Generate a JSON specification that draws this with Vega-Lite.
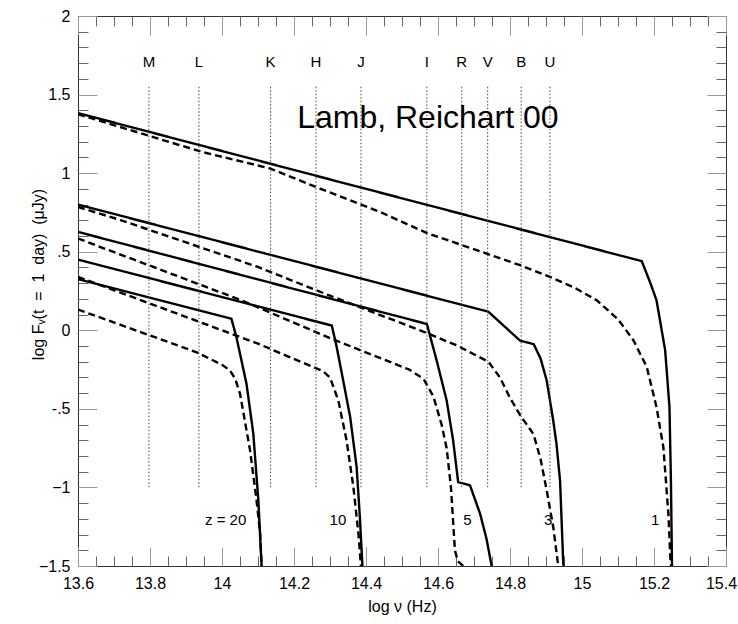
{
  "$schema": "https://vega.github.io/schema/vega-lite/v6.json",
  "width": 648,
  "height": 550,
  "autosize": {"type": "none"},
  "padding": {"left": 78, "top": 16, "right": 12, "bottom": 58},
  "config": {
    "font": "Liberation Sans",
    "view": {"stroke": "#333", "strokeWidth": 1},
    "axis": {"grid": false, "domain": false, "labelFont": "Liberation Sans", "titleFont": "Liberation Sans", "labelColor": "#000", "titleColor": "#000", "labelFontSize": 16, "titleFontSize": 16, "titleFontWeight": "normal"}
  },
  "datasets": {
    "curves": [
      {"curve": "z1s", "kind": "solid", "x": 13.6, "y": 1.382},
      {"curve": "z1s", "kind": "solid", "x": 14.3, "y": 0.96},
      {"curve": "z1s", "kind": "solid", "x": 15.166, "y": 0.44},
      {"curve": "z1s", "kind": "solid", "x": 15.19, "y": 0.3},
      {"curve": "z1s", "kind": "solid", "x": 15.207, "y": 0.191},
      {"curve": "z1s", "kind": "solid", "x": 15.231, "y": -0.127},
      {"curve": "z1s", "kind": "solid", "x": 15.243, "y": -0.489},
      {"curve": "z1s", "kind": "solid", "x": 15.247, "y": -0.955},
      {"curve": "z1s", "kind": "solid", "x": 15.25, "y": -1.5},
      {"curve": "z1d", "kind": "dashed", "x": 13.6, "y": 1.375},
      {"curve": "z1d", "kind": "dashed", "x": 13.943, "y": 1.136},
      {"curve": "z1d", "kind": "dashed", "x": 14.133, "y": 1.03},
      {"curve": "z1d", "kind": "dashed", "x": 14.272, "y": 0.902},
      {"curve": "z1d", "kind": "dashed", "x": 14.439, "y": 0.753},
      {"curve": "z1d", "kind": "dashed", "x": 14.568, "y": 0.62},
      {"curve": "z1d", "kind": "dashed", "x": 14.735, "y": 0.488},
      {"curve": "z1d", "kind": "dashed", "x": 14.828, "y": 0.414},
      {"curve": "z1d", "kind": "dashed", "x": 14.911, "y": 0.34},
      {"curve": "z1d", "kind": "dashed", "x": 14.98, "y": 0.27},
      {"curve": "z1d", "kind": "dashed", "x": 15.041, "y": 0.191},
      {"curve": "z1d", "kind": "dashed", "x": 15.1, "y": 0.07},
      {"curve": "z1d", "kind": "dashed", "x": 15.143, "y": -0.064},
      {"curve": "z1d", "kind": "dashed", "x": 15.18, "y": -0.234},
      {"curve": "z1d", "kind": "dashed", "x": 15.207, "y": -0.489},
      {"curve": "z1d", "kind": "dashed", "x": 15.226, "y": -0.743},
      {"curve": "z1d", "kind": "dashed", "x": 15.24, "y": -1.168},
      {"curve": "z1d", "kind": "dashed", "x": 15.246, "y": -1.48},
      {"curve": "z1d", "kind": "dashed", "x": 15.248, "y": -1.5},
      {"curve": "z3s", "kind": "solid", "x": 13.6, "y": 0.8},
      {"curve": "z3s", "kind": "solid", "x": 14.74, "y": 0.118},
      {"curve": "z3s", "kind": "solid", "x": 14.828, "y": -0.066},
      {"curve": "z3s", "kind": "solid", "x": 14.866, "y": -0.089},
      {"curve": "z3s", "kind": "solid", "x": 14.885, "y": -0.18},
      {"curve": "z3s", "kind": "solid", "x": 14.902, "y": -0.32},
      {"curve": "z3s", "kind": "solid", "x": 14.92, "y": -0.573},
      {"curve": "z3s", "kind": "solid", "x": 14.929, "y": -0.72},
      {"curve": "z3s", "kind": "solid", "x": 14.939, "y": -0.955},
      {"curve": "z3s", "kind": "solid", "x": 14.948, "y": -1.486},
      {"curve": "z3s", "kind": "solid", "x": 14.949, "y": -1.5},
      {"curve": "z3d", "kind": "dashed", "x": 13.6, "y": 0.785},
      {"curve": "z3d", "kind": "dashed", "x": 13.72, "y": 0.7},
      {"curve": "z3d", "kind": "dashed", "x": 14.1, "y": 0.403},
      {"curve": "z3d", "kind": "dashed", "x": 14.3, "y": 0.22},
      {"curve": "z3d", "kind": "dashed", "x": 14.55, "y": 0.0},
      {"curve": "z3d", "kind": "dashed", "x": 14.652, "y": -0.096},
      {"curve": "z3d", "kind": "dashed", "x": 14.74, "y": -0.2},
      {"curve": "z3d", "kind": "dashed", "x": 14.772, "y": -0.3},
      {"curve": "z3d", "kind": "dashed", "x": 14.8, "y": -0.43},
      {"curve": "z3d", "kind": "dashed", "x": 14.828, "y": -0.54},
      {"curve": "z3d", "kind": "dashed", "x": 14.865, "y": -0.66},
      {"curve": "z3d", "kind": "dashed", "x": 14.885, "y": -0.82},
      {"curve": "z3d", "kind": "dashed", "x": 14.902, "y": -1.02},
      {"curve": "z3d", "kind": "dashed", "x": 14.92, "y": -1.25},
      {"curve": "z3d", "kind": "dashed", "x": 14.934, "y": -1.5},
      {"curve": "z5s", "kind": "solid", "x": 13.6, "y": 0.626},
      {"curve": "z5s", "kind": "solid", "x": 14.569, "y": 0.04},
      {"curve": "z5s", "kind": "solid", "x": 14.582, "y": -0.07},
      {"curve": "z5s", "kind": "solid", "x": 14.596, "y": -0.19},
      {"curve": "z5s", "kind": "solid", "x": 14.624, "y": -0.446},
      {"curve": "z5s", "kind": "solid", "x": 14.642, "y": -0.7},
      {"curve": "z5s", "kind": "solid", "x": 14.656, "y": -0.966},
      {"curve": "z5s", "kind": "solid", "x": 14.689, "y": -0.987},
      {"curve": "z5s", "kind": "solid", "x": 14.717, "y": -1.168},
      {"curve": "z5s", "kind": "solid", "x": 14.735, "y": -1.33},
      {"curve": "z5s", "kind": "solid", "x": 14.749, "y": -1.5},
      {"curve": "z5d", "kind": "dashed", "x": 13.6, "y": 0.584},
      {"curve": "z5d", "kind": "dashed", "x": 14.054, "y": 0.191},
      {"curve": "z5d", "kind": "dashed", "x": 14.3, "y": -0.05},
      {"curve": "z5d", "kind": "dashed", "x": 14.52, "y": -0.25},
      {"curve": "z5d", "kind": "dashed", "x": 14.56, "y": -0.31},
      {"curve": "z5d", "kind": "dashed", "x": 14.587, "y": -0.42},
      {"curve": "z5d", "kind": "dashed", "x": 14.61, "y": -0.6},
      {"curve": "z5d", "kind": "dashed", "x": 14.624, "y": -0.75},
      {"curve": "z5d", "kind": "dashed", "x": 14.636, "y": -1.0},
      {"curve": "z5d", "kind": "dashed", "x": 14.647, "y": -1.4},
      {"curve": "z5d", "kind": "dashed", "x": 14.655, "y": -1.47},
      {"curve": "z5d", "kind": "dashed", "x": 14.67, "y": -1.5},
      {"curve": "z10s", "kind": "solid", "x": 13.6, "y": 0.45},
      {"curve": "z10s", "kind": "solid", "x": 14.305, "y": 0.03},
      {"curve": "z10s", "kind": "solid", "x": 14.318, "y": -0.1},
      {"curve": "z10s", "kind": "solid", "x": 14.335, "y": -0.3},
      {"curve": "z10s", "kind": "solid", "x": 14.356, "y": -0.552},
      {"curve": "z10s", "kind": "solid", "x": 14.374, "y": -0.87},
      {"curve": "z10s", "kind": "solid", "x": 14.383, "y": -1.19},
      {"curve": "z10s", "kind": "solid", "x": 14.39, "y": -1.5},
      {"curve": "z10d", "kind": "dashed", "x": 13.6, "y": 0.34},
      {"curve": "z10d", "kind": "dashed", "x": 14.1, "y": -0.085},
      {"curve": "z10d", "kind": "dashed", "x": 14.28, "y": -0.26},
      {"curve": "z10d", "kind": "dashed", "x": 14.3, "y": -0.3},
      {"curve": "z10d", "kind": "dashed", "x": 14.323, "y": -0.446},
      {"curve": "z10d", "kind": "dashed", "x": 14.346, "y": -0.7},
      {"curve": "z10d", "kind": "dashed", "x": 14.365, "y": -0.998},
      {"curve": "z10d", "kind": "dashed", "x": 14.379, "y": -1.295},
      {"curve": "z10d", "kind": "dashed", "x": 14.386, "y": -1.5},
      {"curve": "z20s", "kind": "solid", "x": 13.6, "y": 0.325},
      {"curve": "z20s", "kind": "solid", "x": 14.026, "y": 0.074},
      {"curve": "z20s", "kind": "solid", "x": 14.04, "y": -0.043},
      {"curve": "z20s", "kind": "solid", "x": 14.068, "y": -0.34},
      {"curve": "z20s", "kind": "solid", "x": 14.087, "y": -0.658},
      {"curve": "z20s", "kind": "solid", "x": 14.101, "y": -1.083},
      {"curve": "z20s", "kind": "solid", "x": 14.11, "y": -1.5},
      {"curve": "z20d", "kind": "dashed", "x": 13.6, "y": 0.132},
      {"curve": "z20d", "kind": "dashed", "x": 13.93, "y": -0.14},
      {"curve": "z20d", "kind": "dashed", "x": 14.0, "y": -0.22},
      {"curve": "z20d", "kind": "dashed", "x": 14.022, "y": -0.255},
      {"curve": "z20d", "kind": "dashed", "x": 14.037, "y": -0.31},
      {"curve": "z20d", "kind": "dashed", "x": 14.05, "y": -0.403},
      {"curve": "z20d", "kind": "dashed", "x": 14.078, "y": -0.764},
      {"curve": "z20d", "kind": "dashed", "x": 14.096, "y": -1.083},
      {"curve": "z20d", "kind": "dashed", "x": 14.106, "y": -1.295},
      {"curve": "z20d", "kind": "dashed", "x": 14.11, "y": -1.5}
    ],
    "bands": [
      {"band": "M", "nu": 13.797},
      {"band": "L", "nu": 13.936},
      {"band": "K", "nu": 14.135},
      {"band": "H", "nu": 14.261},
      {"band": "J", "nu": 14.386},
      {"band": "I", "nu": 14.569},
      {"band": "R", "nu": 14.666},
      {"band": "V", "nu": 14.738},
      {"band": "B", "nu": 14.831},
      {"band": "U", "nu": 14.911}
    ],
    "zlabels": [
      {"label": "z = 20", "x": 14.01, "y": -1.21},
      {"label": "10", "x": 14.322, "y": -1.21},
      {"label": "5", "x": 14.682, "y": -1.21},
      {"label": "3", "x": 14.906, "y": -1.21},
      {"label": "1", "x": 15.203, "y": -1.21}
    ],
    "credit": [
      {"label": "Lamb, Reichart 00", "x": 14.572, "y": 1.35}
    ]
  },
  "resolve": {"axis": {"x": "independent", "y": "independent"}},
  "layer": [
    {
      "data": {"name": "curves"},
      "mark": {"type": "line", "color": "#000", "strokeWidth": 2.4, "clip": true},
      "encoding": {
        "x": {"field": "x", "type": "quantitative", "scale": {"domain": [13.6, 15.4], "nice": false, "zero": false},
          "axis": {"orient": "bottom", "title": "log ν (Hz)", "values": [13.6, 13.8, 14, 14.2, 14.4, 14.6, 14.8, 15, 15.2, 15.4], "format": "~g", "tickSize": -19, "tickColor": "#999", "tickWidth": 1, "labelPadding": 28, "titlePadding": 7, "labelFlush": false,
            "labelOffset": {"condition": {"test": "datum.value == 15.4", "value": -5}, "value": 0}}},
        "y": {"field": "y", "type": "quantitative", "scale": {"domain": [-1.5, 2], "nice": false, "zero": false},
          "axis": {"orient": "left", "title": "log Fᵥ(t\u00a0\u00a0=\u00a0\u00a01\u00a0\u00a0day)\u00a0\u00a0(μJy)", "titleX": -40, "titleY": 258, "titleAlign": "center", "titleBaseline": "middle", "titleAngle": -90, "values": [-1.5, -1, -0.5, 0, 0.5, 1, 1.5, 2], "labelExpr": "datum.value == 0.5 ? '.5' : datum.value == -0.5 ? '-.5' : format(datum.value, '~g')", "tickSize": -19, "tickColor": "#999", "tickWidth": 1, "labelPadding": 27, "labelFlush": false}},
        "detail": {"field": "curve"},
        "strokeDash": {"field": "kind", "type": "nominal", "scale": {"domain": ["solid", "dashed"], "range": [[1, 0], [7, 4]]}, "legend": null}
      }
    },
    {
      "data": {"name": "bands"},
      "mark": {"type": "rule", "color": "#444", "strokeWidth": 1, "strokeDash": [1.5, 2]},
      "encoding": {
        "x": {"field": "nu", "type": "quantitative", "scale": {"domain": [13.6, 15.4], "nice": false, "zero": false},
          "axis": {"orient": "bottom", "title": null, "labels": false, "values": [13.65, 13.7, 13.75, 13.85, 13.9, 13.95, 14.05, 14.1, 14.15, 14.25, 14.3, 14.35, 14.45, 14.5, 14.55, 14.65, 14.7, 14.75, 14.85, 14.9, 14.95, 15.05, 15.1, 15.15, 15.25, 15.3, 15.35], "tickSize": -10, "tickColor": "#666", "tickWidth": 1}},
        "y": {"datum": 1.55, "type": "quantitative", "scale": {"domain": [-1.5, 2], "nice": false, "zero": false},
          "axis": {"orient": "left", "title": null, "labels": false, "values": [-1.4, -1.3, -1.2, -1.1, -0.9, -0.8, -0.7, -0.6, -0.4, -0.3, -0.2, -0.1, 0.1, 0.2, 0.3, 0.4, 0.6, 0.7, 0.8, 0.9, 1.1, 1.2, 1.3, 1.4, 1.6, 1.7, 1.8, 1.9], "tickSize": -10, "tickColor": "#666", "tickWidth": 1}},
        "y2": {"datum": -1.0}
      }
    },
    {
      "data": {"name": "bands"},
      "mark": {"type": "text", "fontSize": 15, "color": "#000", "baseline": "middle", "align": "center"},
      "encoding": {
        "x": {"field": "nu", "type": "quantitative", "scale": {"domain": [13.6, 15.4], "nice": false, "zero": false},
          "axis": {"orient": "top", "title": null, "labels": false, "values": [13.6, 13.8, 14, 14.2, 14.4, 14.6, 14.8, 15, 15.2, 15.4], "tickSize": -19, "tickColor": "#999", "tickWidth": 1}},
        "y": {"datum": 1.707, "type": "quantitative", "scale": {"domain": [-1.5, 2], "nice": false, "zero": false},
          "axis": {"orient": "right", "title": null, "labels": false, "values": [-1.5, -1, -0.5, 0, 0.5, 1, 1.5, 2], "tickSize": -19, "tickColor": "#999", "tickWidth": 1}},
        "text": {"field": "band"}
      }
    },
    {
      "data": {"name": "zlabels"},
      "mark": {"type": "text", "fontSize": 15, "color": "#000", "baseline": "middle", "align": "center"},
      "encoding": {
        "x": {"field": "x", "type": "quantitative", "scale": {"domain": [13.6, 15.4], "nice": false, "zero": false},
          "axis": {"orient": "top", "title": null, "labels": false, "values": [13.65, 13.7, 13.75, 13.85, 13.9, 13.95, 14.05, 14.1, 14.15, 14.25, 14.3, 14.35, 14.45, 14.5, 14.55, 14.65, 14.7, 14.75, 14.85, 14.9, 14.95, 15.05, 15.1, 15.15, 15.25, 15.3, 15.35], "tickSize": -10, "tickColor": "#666", "tickWidth": 1}},
        "y": {"field": "y", "type": "quantitative", "scale": {"domain": [-1.5, 2], "nice": false, "zero": false},
          "axis": {"orient": "right", "title": null, "labels": false, "values": [-1.4, -1.3, -1.2, -1.1, -0.9, -0.8, -0.7, -0.6, -0.4, -0.3, -0.2, -0.1, 0.1, 0.2, 0.3, 0.4, 0.6, 0.7, 0.8, 0.9, 1.1, 1.2, 1.3, 1.4, 1.6, 1.7, 1.8, 1.9], "tickSize": -10, "tickColor": "#666", "tickWidth": 1}},
        "text": {"field": "label"}
      }
    },
    {
      "data": {"name": "credit"},
      "mark": {"type": "text", "fontSize": 32, "color": "#000", "baseline": "middle", "align": "center", "font": "Liberation Sans"},
      "encoding": {
        "x": {"field": "x", "type": "quantitative", "scale": {"domain": [13.6, 15.4], "nice": false, "zero": false}, "axis": null},
        "y": {"field": "y", "type": "quantitative", "scale": {"domain": [-1.5, 2], "nice": false, "zero": false}, "axis": null},
        "text": {"field": "label"}
      }
    }
  ]
}
